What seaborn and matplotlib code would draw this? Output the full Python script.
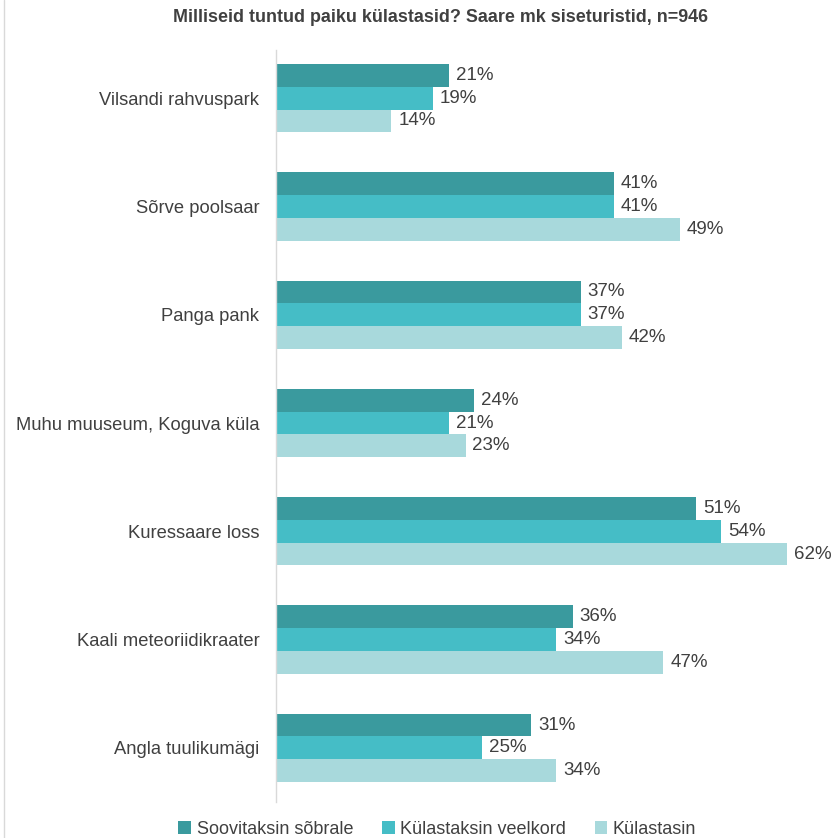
import matplotlib
matplotlib.use("Agg")
import matplotlib.pyplot as plt
import seaborn as sns
import pandas as pd
from matplotlib.lines import Line2D
from matplotlib.patches import Patch

categories = ["Vilsandi rahvuspark", "Sõrve poolsaar", "Panga pank",
              "Muhu muuseum, Koguva küla", "Kuressaare loss",
              "Kaali meteoriidikraater", "Angla tuulikumägi"]
series = ["Soovitaksin sõbrale", "Külastaksin veelkord", "Külastasin"]
soovitaksin = [21, 41, 37, 24, 51, 36, 31]
kulastaksin = [19, 41, 37, 21, 54, 34, 25]
kulastasin = [14, 49, 42, 23, 62, 47, 34]
colors = ["#3a9a9e", "#45bdc6", "#a8d9dc"]

rows = []
for s, vals in zip(series, [soovitaksin, kulastaksin, kulastasin]):
    for c, v in zip(categories, vals):
        rows.append({"cat": c, "series": s, "val": v})
df = pd.DataFrame(rows)

sns.set_theme(style="white")
plt.rcParams["font.family"] = ["Liberation Sans", "DejaVu Sans"]

fig = plt.figure(figsize=(8.33, 8.38), dpi=100)
ax = fig.add_axes([276/833, 1-802/838, (825-276)/833, (802-44)/838])

sns.barplot(data=df, y="cat", x="val", hue="series", order=categories,
            hue_order=series, palette=colors, orient="h", width=0.63,
            gap=0, saturation=1, ax=ax, legend=False, errorbar=None,
            linewidth=0, edgecolor="none")

for cont in ax.containers:
    ax.bar_label(cont, labels=[f"{int(round(b.get_width()))}%" for b in cont],
                 padding=5, fontsize=13.5, color="#404040")

ax.set_xlim(0, (825-276)/8.24)
ax.set_ylim(6.5, -0.5)
ax.set_xlabel("")
ax.set_ylabel("")
ax.set_xticks([])
ax.tick_params(axis="y", length=0, pad=12, labelsize=13.2, labelcolor="#404040")
for sp in ["top", "right", "bottom"]:
    ax.spines[sp].set_visible(False)
ax.spines["left"].set_color("#d9d9d9")
ax.spines["left"].set_linewidth(1)
ax.spines["left"].set_bounds(6.5, -0.5 + 6/108.3)

fig.text(0.529, 1-18/838, "Milliseid tuntud paiku külastasid? Saare mk siseturistid, n=946",
         ha="center", va="center", fontsize=12.9, fontweight="bold", color="#404040")

handles = [Patch(facecolor=c, edgecolor="none") for c in colors]
fig.legend(handles, series, loc="center", bbox_to_anchor=(0.525, 1-829/838),
           ncol=3, frameon=False, fontsize=13, handlelength=0.7, handleheight=0.7,
           handletextpad=0.3, columnspacing=1.6, labelcolor="#404040")

fig.add_artist(Line2D([4/833, 4/833], [0, 1], transform=fig.transFigure,
                      color="#d9d9d9", linewidth=1))

fig.savefig("out.png", dpi=100)
